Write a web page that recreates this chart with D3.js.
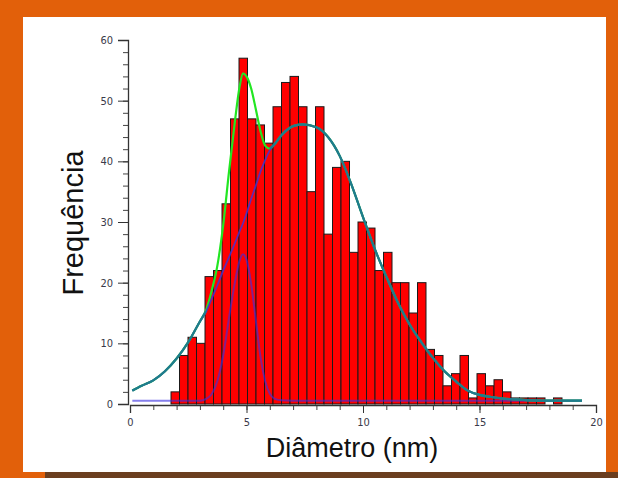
<!DOCTYPE html>
<html><head><meta charset="utf-8">
<script src="https://cdn.jsdelivr.net/npm/d3@7"></script>
<style>html,body{margin:0;padding:0;background:#fff;}svg{display:block;}</style>
</head><body>
<script>
// ---- data ----
const binStart = 1.76;      // left edge of first bin (nm)
const binWidth = 0.3648;    // bin width (nm)
const counts = [2,8,11,10,21,22,33,47,57,47,46,43,49,53,54,49,35,49,28,39,40,25,30,29,22,25,20,20,15,20,9,8,3,5,8,1,5,3,4,2,1,1,1,1,0,1,0,0,0];

const fitX     = [0.1,0.5,1,1.5,2,2.5,3,3.25,3.5,3.75,4,4.25,4.5,4.7,4.85,5,5.2,5.4,5.6,5.8,6,6.2,6.5,7,7.4,8,8.5,9,9.5,10,10.5,11,11.5,12,12.5,13,13.5,14,14.5,15,15.5,16,16.5,17,18,19.4];
const fitTotal = [2.2,3.0,3.9,5.4,7.5,10.2,13.6,15.3,18.6,22.8,29.5,38.3,46.5,52.2,54.5,54.0,52.0,48.6,45.0,42.6,42.1,42.8,44.3,45.8,46.1,45.6,44.0,40.9,36.2,30.8,25.6,21.0,16.7,13.1,10.2,7.6,5.4,3.7,2.2,1.5,1.15,0.9,0.75,0.65,0.57,0.55];
const fitWide  = [2.2,3.0,3.9,5.4,7.5,10.2,13.6,15.1,17.3,19.6,22.0,24.2,26.5,28.4,29.8,31.4,33.8,36.0,38.3,40.2,41.8,42.8,44.3,45.8,46.1,45.6,44.0,40.9,36.2,30.8,25.6,21.0,16.7,13.1,10.2,7.6,5.4,3.7,2.2,1.5,1.15,0.9,0.75,0.65,0.57,0.55];
const fitNarrow= [0.55,0.55,0.55,0.55,0.55,0.55,0.55,0.8,1.6,3.8,8.0,14.2,20.0,23.6,24.7,23.8,19.8,13.8,7.8,3.8,1.7,0.9,0.6,0.55,0.55,0.55,0.55,0.55,0.55,0.55,0.55,0.55,0.55,0.55,0.55,0.55,0.55,0.55,0.55,0.55,0.55,0.55,0.55,0.55,0.55,0.55];

const xTicks = [0,5,10,15,20];
const yTicks = [0,10,20,30,40,50,60];
const xLabel = "Diâmetro (nm)";
const yLabel = "Frequência";

// ---- drawing ----
const W = 618, H = 478;
const svg = d3.select("body").append("svg").attr("width", W).attr("height", H);

// frame
svg.append("rect").attr("x",0).attr("y",0).attr("width",W).attr("height",H).attr("fill","#E2600A");
svg.append("rect").attr("x",23).attr("y",17).attr("width",583).attr("height",455).attr("fill","#ffffff");
svg.append("rect").attr("x",45).attr("y",472).attr("width",W-45).attr("height",6).attr("fill","#6B3E1F");

const x = d3.scaleLinear().domain([0,20]).range([130,596]);
const y = d3.scaleLinear().domain([0,60]).range([404,40]);

// bars
svg.append("g").selectAll("rect").data(counts).join("rect")
  .attr("x",(d,i)=>x(binStart+i*binWidth))
  .attr("width",(d,i)=>x(binStart+(i+1)*binWidth)-x(binStart+i*binWidth))
  .attr("y",d=>y(d))
  .attr("height",d=>y(0)-y(d))
  .attr("fill","#ff0000").attr("stroke","#1a1a1a").attr("stroke-width",1);

// axes
const font = "'DejaVu Sans Condensed','Liberation Sans Narrow',sans-serif";
const xAxis = svg.append("g").attr("transform","translate(0,405)");
xAxis.call(d3.axisBottom(x).tickValues(d3.range(0,21,1)).tickSize(5).tickFormat(""));
xAxis.call(g=>g.selectAll(".tick line").attr("stroke","#444"));
const xMaj = svg.append("g").attr("transform","translate(0,405)");
xMaj.call(d3.axisBottom(x).tickValues(xTicks).tickSize(8).tickPadding(5));
xMaj.select(".domain").attr("stroke","#333").attr("stroke-width",1.3);
xMaj.selectAll(".tick line").attr("stroke","#333");
xMaj.selectAll("text").attr("font-family",font).attr("font-size",11).attr("fill","#3a3a4a");
xAxis.select(".domain").remove();

const yAxis = svg.append("g").attr("transform","translate(128,0)");
yAxis.call(d3.axisLeft(y).tickValues(d3.range(0,61,2)).tickSize(5).tickFormat(""));
yAxis.select(".domain").remove();
yAxis.selectAll(".tick line").attr("stroke","#444");
const yMaj = svg.append("g").attr("transform","translate(128,0)");
yMaj.call(d3.axisLeft(y).tickValues(yTicks).tickSize(10).tickPadding(5));
yMaj.select(".domain").attr("stroke","#333").attr("stroke-width",1.3);
yMaj.selectAll(".tick line").attr("stroke","#333");
yMaj.selectAll("text").attr("font-family",font).attr("font-size",11).attr("fill","#3a3a4a");

// fit curves
const pts = (arr)=>fitX.map((v,i)=>[v,arr[i]]);
const line = d3.line().x(d=>x(d[0])).y(d=>y(d[1])).curve(d3.curveMonotoneX);

svg.append("path").attr("d",line(pts(fitNarrow))).attr("fill","none")
  .attr("stroke","#3a30e0").attr("stroke-opacity",0.62).attr("stroke-width",2);
svg.append("path").attr("d",line(pts(fitTotal))).attr("fill","none")
  .attr("stroke","#22e622").attr("stroke-width",2.2);
svg.append("path").attr("d",line(pts(fitWide))).attr("fill","none")
  .attr("stroke","#4432d0").attr("stroke-opacity",0.85).attr("stroke-width",1.8);
// overlap of total fit and wide peak (drawn teal as in original)
const overlap = fitX.map((v,i)=>[v,fitTotal[i], Math.abs(fitTotal[i]-fitWide[i])<0.35]);
svg.append("path").attr("d",
    d3.line().defined(d=>d[2]).x(d=>x(d[0])).y(d=>y(d[1])).curve(d3.curveMonotoneX)(overlap))
  .attr("fill","none").attr("stroke","#1e7d8c").attr("stroke-width",2.2);

// axis titles
const tfont = "'Liberation Sans',Arial,sans-serif";
svg.append("text").attr("x",352).attr("y",457).attr("text-anchor","middle")
  .attr("font-family",tfont).attr("font-size",27).attr("fill","#111").text(xLabel);
svg.append("text").attr("transform","translate(83,223) rotate(-90)").attr("text-anchor","middle")
  .attr("font-family",tfont).attr("font-size",29).attr("fill","#111").text(yLabel);
</script>
</body></html>
